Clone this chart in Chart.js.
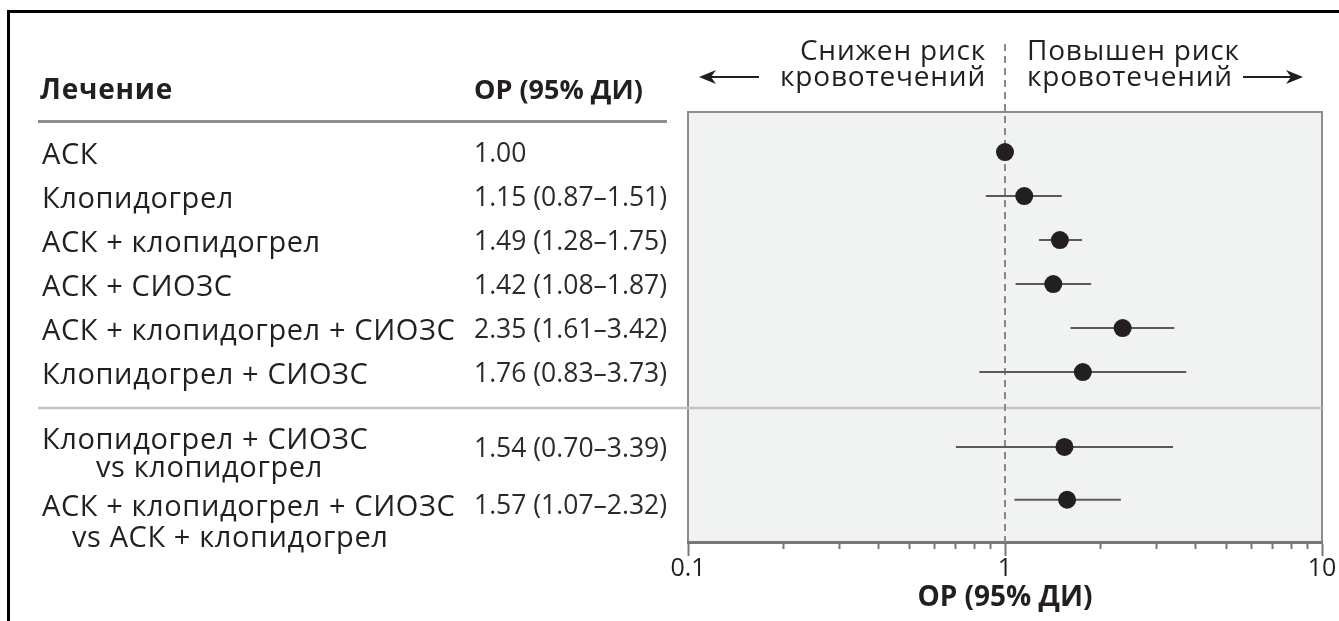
<!DOCTYPE html>
<html lang="ru">
<head>
<meta charset="utf-8">
<title>Риск кровотечений</title>
<script src="https://cdn.jsdelivr.net/npm/chart.js@4.4.0/dist/chart.umd.min.js"></script>
<style>
  html, body { margin: 0; padding: 0; background: #fff; }
  body { width: 1339px; height: 621px; position: relative; overflow: hidden; font-family: 'Open Sans', sans-serif; color: #231f20; }
  #frame { position: absolute; left: 7px; top: 10px; width: 1400px; height: 700px; border-left: 3px solid #000; border-top: 3px solid #000; }
  #forest { position: absolute; left: 0; top: 0; }
  .txt { position: absolute; white-space: nowrap; line-height: 1; transform: translateY(-50%); }
  .name { left: 42px; font-size: 29px; letter-spacing: 0.6px; }
  .val { left: 474px; font-size: 26.5px; color: #2b2b2b; }
  .head { font-weight: bold; top: 88px; }
  .risk { position: absolute; top: 36px; font-size: 28px; letter-spacing: 0.8px; line-height: 26px; white-space: nowrap; }
  #rule { position: absolute; left: 38px; top: 120px; width: 629px; height: 3px; background: #8e8e8e; }
  svg.arrow { position: absolute; }
</style>
</head>
<body>
<div id="frame"></div>
<canvas id="forest" width="1339" height="621"></canvas>

<div class="txt head" style="left:40px; font-size:28px; letter-spacing:0.8px">Лечение</div>
<div class="txt head" style="left:474px; font-size:27px">ОР (95% ДИ)</div>
<div id="rule"></div>

<div class="risk" style="right:353px; text-align:right">Снижен риск<br>кровотечений</div>
<div class="risk" style="left:1027px">Повышен риск<br>кровотечений</div>
<svg class="arrow" style="left:699px; top:68px" width="60" height="18" viewBox="0 0 60 18">
  <line x1="8" y1="9" x2="60" y2="9" stroke="#231f20" stroke-width="2"/>
  <path d="M0 9 L17 2 L12 9 L17 16 Z" fill="#231f20"/>
</svg>
<svg class="arrow" style="left:1243px; top:68px" width="60" height="18" viewBox="0 0 60 18">
  <line x1="0" y1="9" x2="52" y2="9" stroke="#231f20" stroke-width="2"/>
  <path d="M60 9 L43 2 L48 9 L43 16 Z" fill="#231f20"/>
</svg>

<div id="rows"></div>

<script>
// Forest plot: bleeding risk (OR, 95% CI)
const treatments = [
    ['АСК'],
    ['Клопидогрел'],
    ['АСК + клопидогрел'],
    ['АСК + СИОЗС'],
    ['АСК + клопидогрел + СИОЗС'],
    ['Клопидогрел + СИОЗС'],
    ['Клопидогрел + СИОЗС', 'vs клопидогрел'],
    ['АСК + клопидогрел + СИОЗС', 'vs АСК + клопидогрел']
];
const orValues = [1.00, 1.15, 1.49, 1.42, 2.35, 1.76, 1.54, 1.57];
const ciLow = [null, 0.87, 1.28, 1.08, 1.61, 0.83, 0.70, 1.07];
const ciHigh = [null, 1.51, 1.75, 1.87, 3.42, 3.73, 3.39, 2.32];
const rowY = [0, 1, 2, 3, 4, 5, 6.7, 7.9];
const majorTicks = [0.1, 1, 10];
const minorTicks = [0.2, 0.3, 0.4, 0.5, 0.6, 0.7, 0.8, 0.9, 2, 3, 4, 5, 6, 7, 8, 9];

const Y_MIN = -0.91, Y_MAX = 8.86;

const forestDecor = {
    id: 'forestDecor',
    beforeDraw(chart) {
        const { ctx, chartArea: a } = chart;
        ctx.save();
        ctx.fillStyle = '#f1f2f2';
        ctx.fillRect(a.left, a.top, a.right - a.left, a.bottom - a.top);
        ctx.strokeStyle = '#8c8c8c';
        ctx.lineWidth = 2;
        ctx.beginPath();
        ctx.moveTo(a.left, a.bottom);
        ctx.lineTo(a.left, a.top);
        ctx.lineTo(a.right, a.top);
        ctx.lineTo(a.right, a.bottom);
        ctx.stroke();
        ctx.restore();
    },
    beforeDatasetsDraw(chart) {
        const { ctx, chartArea: a, scales } = chart;
        const y = scales.y;
        // group separator between the two blocks of rows
        const sepY = Math.round((y.getPixelForValue(rowY[5]) + y.getPixelForValue(rowY[6])) / 2) - 2;
        ctx.save();
        ctx.strokeStyle = '#c4c4c4';
        ctx.lineWidth = 2.5;
        ctx.beginPath();
        ctx.moveTo(38, sepY);
        ctx.lineTo(a.right, sepY);
        ctx.stroke();
        // no-effect line at OR = 1
        const x1 = scales.x.getPixelForValue(1);
        ctx.strokeStyle = '#8a8a8a';
        ctx.lineWidth = 2;
        ctx.setLineDash([7, 5]);
        ctx.beginPath();
        ctx.moveTo(x1, 44);
        ctx.lineTo(x1, a.bottom);
        ctx.stroke();
        ctx.restore();
    }
};

const datasets = [{
    label: 'ОР',
    data: orValues.map((v, i) => ({ x: v, y: rowY[i] })),
    pointRadius: 9,
    pointBackgroundColor: '#231f20',
    pointBorderWidth: 0,
    showLine: false
}];
orValues.forEach((v, i) => {
    if (ciLow[i] === null) return;
    datasets.push({
        type: 'line',
        label: 'ДИ ' + (i + 1),
        data: [{ x: ciLow[i], y: rowY[i] }, { x: ciHigh[i], y: rowY[i] }],
        borderColor: '#5a5a5a',
        borderWidth: 2,
        pointRadius: 0
    });
});

const chart = new Chart(document.getElementById('forest'), {
    type: 'scatter',
    data: { datasets: datasets },
    options: {
        responsive: false,
        animation: false,
        layout: { padding: { left: 688, right: 17, top: 112, bottom: 79 } },
        plugins: { legend: { display: false }, tooltip: { enabled: false } },
        scales: {
            y: { type: 'linear', reverse: true, min: Y_MIN, max: Y_MAX, display: false },
            x: {
                type: 'logarithmic', min: 0.1, max: 10,
                position: { y: Y_MAX },
                afterBuildTicks: s => { s.ticks = majorTicks.map(v => ({ value: v })); },
                ticks: {
                    autoSkip: false, maxRotation: 0, padding: 0,
                    color: '#231f20',
                    font: { family: 'Open Sans', size: 25, lineHeight: 1.2 },
                    callback: v => String(v)
                },
                grid: { drawOnChartArea: false, tickLength: 12, tickWidth: 2, tickColor: '#777' },
                border: { color: '#777', width: 3 },
                title: {
                    display: true, text: 'ОР (95% ДИ)', color: '#231f20',
                    font: { family: 'Open Sans', size: 28, weight: 'bold', lineHeight: 1.0 },
                    padding: { top: 0, bottom: 0 }
                }
            },
            xMinor: {
                type: 'logarithmic', axis: 'x', min: 0.1, max: 10,
                position: { y: Y_MAX },
                afterBuildTicks: s => { s.ticks = minorTicks.map(v => ({ value: v })); },
                ticks: { display: false, autoSkip: false },
                grid: { drawOnChartArea: false, tickLength: 7, tickWidth: 2, tickColor: '#777' },
                border: { display: false }
            }
        }
    },
    plugins: [forestDecor]
});

// table text, placed on the same rows as the plot
function addText(cls, text, left, centerY) {
    const el = document.createElement('div');
    el.className = 'txt ' + cls;
    el.textContent = text;
    el.style.top = centerY + 'px';
    if (left !== null) el.style.left = left + 'px';
    document.getElementById('rows').appendChild(el);
}

function ciText(i) {
    const base = orValues[i].toFixed(2);
    if (ciLow[i] === null) return base;
    return `${base} (${ciLow[i].toFixed(2)}–${ciHigh[i].toFixed(2)})`;
}

const yScale = chart.scales.y;
const lineShift = { 6: [-10, 18], 7: [4, 35] };
const subIndent = { 6: 96, 7: 72 };
treatments.forEach((lines, i) => {
    const py = yScale.getPixelForValue(rowY[i]);
    const shifts = lineShift[i] || [0];
    lines.forEach((t, k) => addText('name', t, k === 0 ? null : subIndent[i], py + shifts[k]));
    addText('val', ciText(i), null, py + (i === 7 ? 4 : 0));
});
</script>
</body>
</html>
